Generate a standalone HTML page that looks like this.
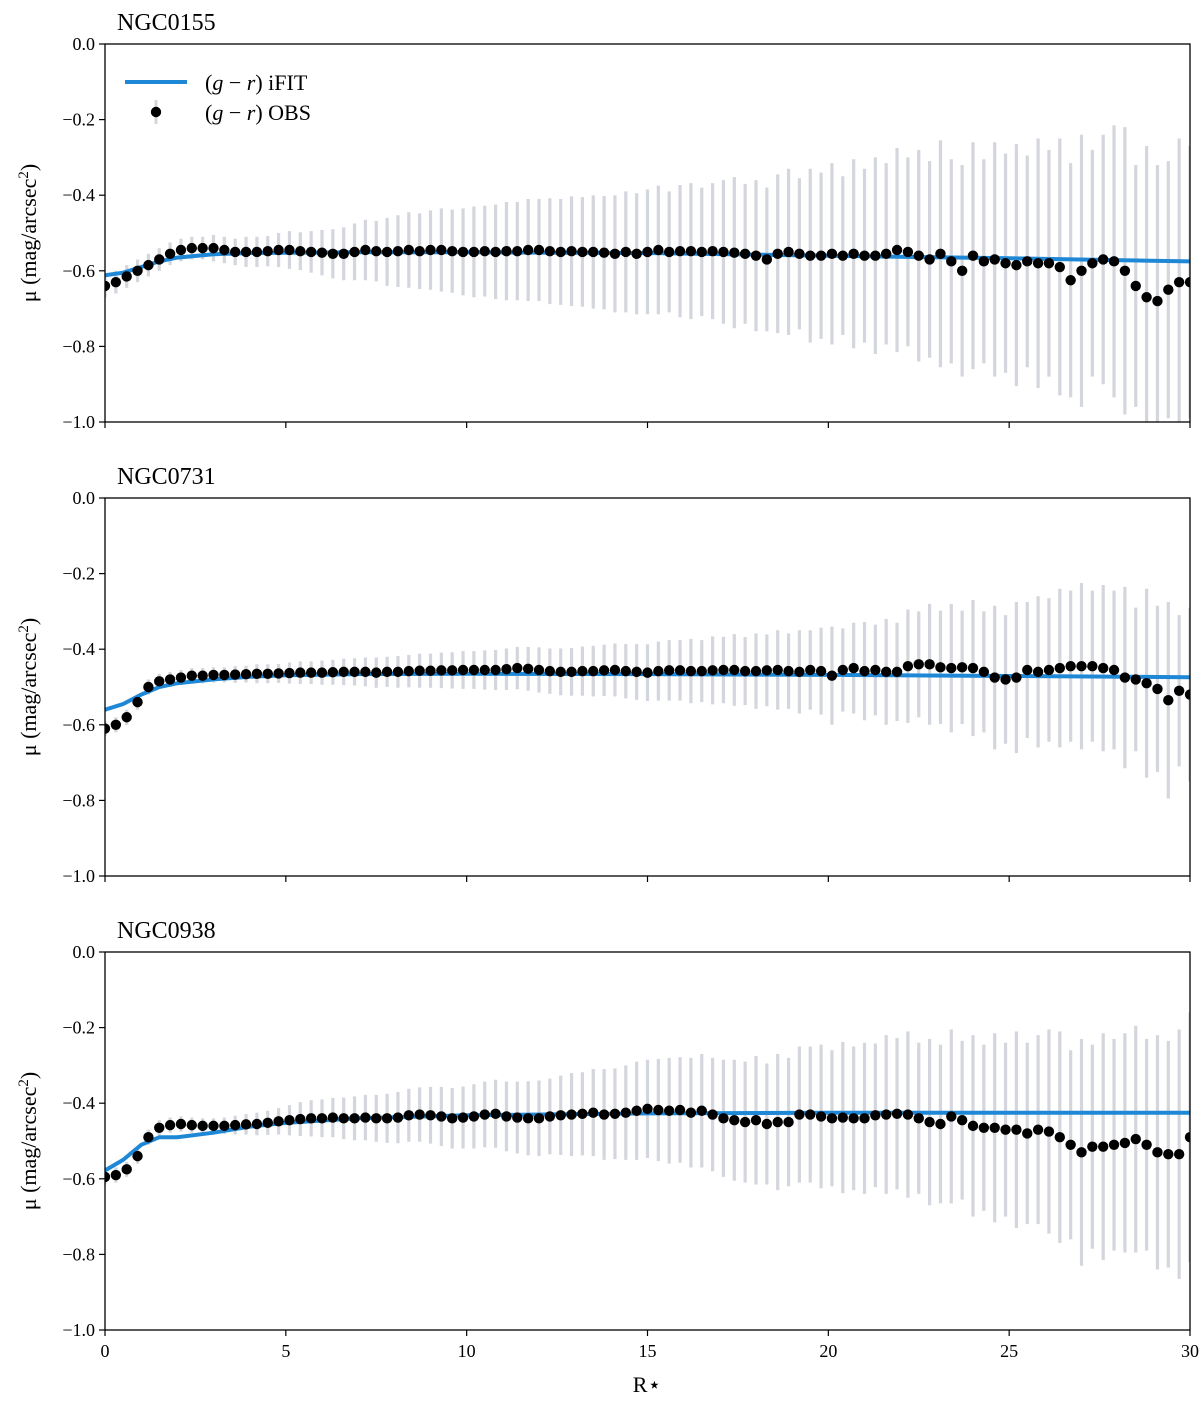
<!DOCTYPE html>
<html><head><meta charset="utf-8"><style>
body{margin:0;background:#fff}
svg text{font-family:"Liberation Serif",serif;fill:#000}
</style></head><body>
<svg id="fig" width="1200" height="1399" viewBox="0 0 1200 1399" xmlns="http://www.w3.org/2000/svg">
<defs>
<clipPath id="c0"><rect x="105" y="44" width="1085" height="378"/></clipPath>
<clipPath id="c1"><rect x="105" y="498" width="1085" height="378"/></clipPath>
<clipPath id="c2"><rect x="105" y="952" width="1085" height="378"/></clipPath>
</defs>
</svg>
<script>
const xStep = 0.3;
const yTicks = [0.0, -0.2, -0.4, -0.6, -0.8, -1.0];
const yTickLabels = ["0.0","\u22120.2","\u22120.4","\u22120.6","\u22120.8","\u22121.0"];
const xTicks = [0, 5, 10, 15, 20, 25, 30];
const panelNames = ["NGC0155", "NGC0731", "NGC0938"];

const fitX = [0, 0.5, 1, 1.5, 2, 3, 4, 5, 7, 10, 15, 20, 25, 30];
const fit0 = [-0.612, -0.605, -0.59, -0.575, -0.565, -0.556, -0.553, -0.552, -0.551, -0.551, -0.553, -0.56, -0.567, -0.575];
const fit1 = [-0.56, -0.545, -0.52, -0.5, -0.49, -0.48, -0.473, -0.469, -0.466, -0.465, -0.466, -0.468, -0.471, -0.474];
const fit2 = [-0.578, -0.55, -0.51, -0.49, -0.49, -0.478, -0.462, -0.452, -0.44, -0.432, -0.427, -0.425, -0.425, -0.425];

const obs0 = [-0.64,-0.63,-0.615,-0.60,-0.585,-0.57,-0.555,-0.545,-0.54,-0.54,
-0.54,-0.545,-0.55,-0.55,-0.55,-0.548,-0.545,-0.545,-0.548,-0.55,
-0.552,-0.555,-0.555,-0.55,-0.545,-0.548,-0.55,-0.548,-0.545,-0.548,
-0.545,-0.545,-0.548,-0.55,-0.55,-0.548,-0.55,-0.548,-0.548,-0.545,
-0.545,-0.548,-0.55,-0.548,-0.55,-0.55,-0.552,-0.555,-0.55,-0.555,
-0.55,-0.545,-0.55,-0.548,-0.548,-0.55,-0.548,-0.55,-0.552,-0.555,
-0.56,-0.57,-0.555,-0.55,-0.555,-0.56,-0.56,-0.555,-0.56,-0.555,
-0.56,-0.56,-0.555,-0.545,-0.55,-0.56,-0.57,-0.555,-0.575,-0.6,
-0.56,-0.575,-0.57,-0.58,-0.585,-0.575,-0.58,-0.58,-0.59,-0.625,
-0.6,-0.58,-0.57,-0.575,-0.6,-0.64,-0.67,-0.68,-0.65,-0.63,-0.63];
const err0 = [.03,.03,.03,.03,.03,.03,.03,.03,.03,.03,
.035,.035,.035,.04,.04,.04,.045,.05,.05,.055,
.06,.065,.07,.075,.08,.08,.09,.095,.1,.1,
.105,.11,.11,.115,.12,.12,.125,.13,.13,.135,
.135,.14,.14,.145,.145,.15,.15,.155,.16,.16,
.165,.17,.16,.175,.18,.17,.18,.19,.2,.185,
.2,.19,.21,.22,.2,.23,.22,.24,.21,.25,
.23,.26,.24,.27,.25,.28,.26,.3,.27,.28,
.3,.27,.31,.29,.32,.28,.33,.3,.34,.31,
.36,.3,.33,.36,.38,.32,.4,.36,.34,.38,.36];

const obs1 = [-0.61,-0.60,-0.58,-0.54,-0.50,-0.485,-0.48,-0.475,-0.47,-0.47,
-0.468,-0.468,-0.467,-0.466,-0.465,-0.465,-0.464,-0.463,-0.462,-0.462,
-0.462,-0.461,-0.46,-0.46,-0.46,-0.462,-0.46,-0.46,-0.458,-0.457,
-0.457,-0.456,-0.456,-0.455,-0.455,-0.455,-0.455,-0.453,-0.45,-0.452,
-0.455,-0.458,-0.46,-0.46,-0.458,-0.458,-0.456,-0.455,-0.458,-0.46,
-0.462,-0.458,-0.456,-0.456,-0.458,-0.458,-0.456,-0.455,-0.455,-0.458,
-0.458,-0.456,-0.455,-0.458,-0.46,-0.455,-0.458,-0.47,-0.455,-0.45,
-0.458,-0.455,-0.46,-0.46,-0.445,-0.44,-0.44,-0.448,-0.45,-0.448,
-0.45,-0.46,-0.475,-0.48,-0.475,-0.455,-0.46,-0.455,-0.45,-0.445,
-0.445,-0.445,-0.45,-0.455,-0.475,-0.48,-0.49,-0.505,-0.535,-0.51,-0.52];
const err1 = [.02,.02,.02,.02,.02,.02,.02,.02,.02,.02,
.02,.02,.022,.022,.025,.025,.025,.028,.03,.03,
.032,.033,.035,.036,.038,.04,.04,.042,.043,.045,
.045,.047,.048,.05,.05,.052,.053,.055,.056,.058,
.06,.06,.062,.063,.065,.067,.068,.07,.072,.074,
.075,.078,.08,.08,.085,.082,.09,.088,.095,.09,
.1,.095,.105,.1,.11,.105,.115,.13,.11,.12,
.13,.12,.14,.13,.15,.14,.16,.15,.17,.15,
.18,.16,.19,.17,.2,.18,.2,.19,.21,.2,
.22,.2,.22,.21,.24,.19,.25,.22,.26,.2,.23];

const obs2 = [-0.595,-0.59,-0.575,-0.54,-0.49,-0.465,-0.458,-0.455,-0.458,-0.46,
-0.46,-0.46,-0.458,-0.456,-0.455,-0.452,-0.448,-0.445,-0.442,-0.44,
-0.44,-0.438,-0.44,-0.44,-0.438,-0.44,-0.44,-0.438,-0.432,-0.43,
-0.432,-0.435,-0.44,-0.438,-0.435,-0.43,-0.428,-0.435,-0.438,-0.44,
-0.44,-0.435,-0.432,-0.43,-0.428,-0.425,-0.43,-0.428,-0.425,-0.42,
-0.415,-0.418,-0.42,-0.418,-0.425,-0.42,-0.43,-0.44,-0.445,-0.45,
-0.445,-0.455,-0.45,-0.45,-0.43,-0.43,-0.435,-0.44,-0.438,-0.44,
-0.44,-0.432,-0.43,-0.428,-0.43,-0.44,-0.45,-0.455,-0.435,-0.445,
-0.46,-0.465,-0.465,-0.47,-0.47,-0.48,-0.47,-0.475,-0.49,-0.51,
-0.53,-0.515,-0.515,-0.51,-0.505,-0.495,-0.51,-0.53,-0.535,-0.535,-0.49];
const err2 = [.02,.02,.02,.02,.02,.02,.02,.02,.02,.02,
.02,.022,.025,.027,.03,.032,.035,.04,.045,.048,
.05,.052,.055,.058,.06,.062,.065,.068,.07,.072,
.075,.078,.08,.082,.085,.087,.09,.092,.095,.098,
.1,.1,.105,.11,.11,.115,.12,.12,.125,.13,
.13,.135,.14,.14,.145,.15,.15,.155,.16,.16,
.17,.16,.18,.17,.18,.18,.19,.18,.2,.19,
.2,.19,.21,.2,.22,.2,.22,.21,.23,.21,
.24,.22,.25,.23,.26,.24,.25,.27,.28,.25,
.3,.27,.3,.28,.29,.3,.28,.31,.3,.33,.33];

const obsAll = [obs0, obs1, obs2];
const errAll = [err0, err1, err2];
const fitAll = [fit0, fit1, fit2];

const NS = "http://www.w3.org/2000/svg";
const svg = document.getElementById("fig");
const X0 = 105, X1 = 1190, XMIN = 0, XMAX = 30;
const tops = [44, 498, 952], H = 378;
function sx(v){ return X0 + (v - XMIN) / (XMAX - XMIN) * (X1 - X0); }
function mk(tag, attrs, parent){
  const e = document.createElementNS(NS, tag);
  for (const k in attrs) e.setAttribute(k, attrs[k]);
  (parent || svg).appendChild(e);
  return e;
}

for (let p = 0; p < 3; p++) {
  const top = tops[p];
  const sy = v => top + (0 - v) / 1.0 * H;
  const g = mk("g", {});
  
  
  const marks = mk("g", {"clip-path": "url(#c" + p + ")"}, g);
  
  
  const obs = obsAll[p], err = errAll[p];
  // error bars
  for (let i = 0; i < obs.length; i++) {
    const x = sx(i * xStep);
    const b = mk("line", {x1: x, x2: x, y1: sy(obs[i] + err[i]), y2: sy(obs[i] - err[i]), stroke: "#d3d6dc", "stroke-width": 3.2}, marks);
    
    
  }
  // fit line
  const fit = fitAll[p];
  const pts = fitX.map((x, i) => sx(x).toFixed(1) + "," + sy(fit[i]).toFixed(1)).join(" ");
  const fl = mk("polyline", {points: pts, fill: "none", stroke: "#1f88d6", "stroke-width": 4}, marks);
  
  
  // points
  for (let i = 0; i < obs.length; i++) {
    const c = mk("circle", {cx: sx(i * xStep), cy: sy(obs[i]), r: 5.2, fill: "#000"}, marks);
    
    
  }
  // frame
  const fr = mk("rect", {x: X0, y: top, width: X1 - X0, height: H, fill: "none", stroke: "#000", "stroke-width": 1.3}, g);
  
  
  // y ticks
  yTicks.forEach((t, i) => {
    const y = sy(t);
    mk("line", {x1: X0 - 6, x2: X0, y1: y, y2: y, stroke: "#000", "stroke-width": 1.2}, g);
    const tx = mk("text", {x: X0 - 10, y: y + 6, "text-anchor": "end", "font-size": 18}, g);
    tx.textContent = yTickLabels[i];
    
    
  });
  // x ticks
  xTicks.forEach(t => {
    const x = sx(t);
    mk("line", {x1: x, x2: x, y1: top + H, y2: top + H + 6, stroke: "#000", "stroke-width": 1.2}, g);
    if (p === 2) {
      const tx = mk("text", {x: x, y: top + H + 27, "text-anchor": "middle", "font-size": 18}, g);
      tx.textContent = String(t);
      
      
    }
  });
  // title
  const tt = mk("text", {x: 117, y: top - 14, "font-size": 24}, g);
  tt.textContent = panelNames[p];
  
  
  // y label
  const yl = mk("text", {x: 0, y: 0, "text-anchor": "middle", "font-size": 22, transform: "translate(36," + (top + H / 2) + ") rotate(-90)"}, g);
  yl.innerHTML = 'μ (mag/arcsec<tspan dy="-8" font-size="15">2</tspan><tspan dy="8">)</tspan>';
  
  
}
// x label
const xl = mk("text", {x: 647, y: 1392, "text-anchor": "middle", "font-size": 22});
xl.textContent = "R\u22c6";



// legend
const lg = mk("g", {});


mk("line", {x1: 125, x2: 187, y1: 82, y2: 82, stroke: "#1f88d6", "stroke-width": 4}, lg);
const l1 = mk("text", {x: 205, y: 90, "font-size": 22}, lg);
l1.innerHTML = '(<tspan font-style="italic">g</tspan> − <tspan font-style="italic">r</tspan>) iFIT';


mk("line", {x1: 156, x2: 156, y1: 100, y2: 124, stroke: "#d3d6dc", "stroke-width": 3}, lg);
mk("circle", {cx: 156, cy: 112, r: 5.2, fill: "#000"}, lg);
const l2 = mk("text", {x: 205, y: 120, "font-size": 22}, lg);
l2.innerHTML = '(<tspan font-style="italic">g</tspan> − <tspan font-style="italic">r</tspan>) OBS';


</script>
</body></html>
